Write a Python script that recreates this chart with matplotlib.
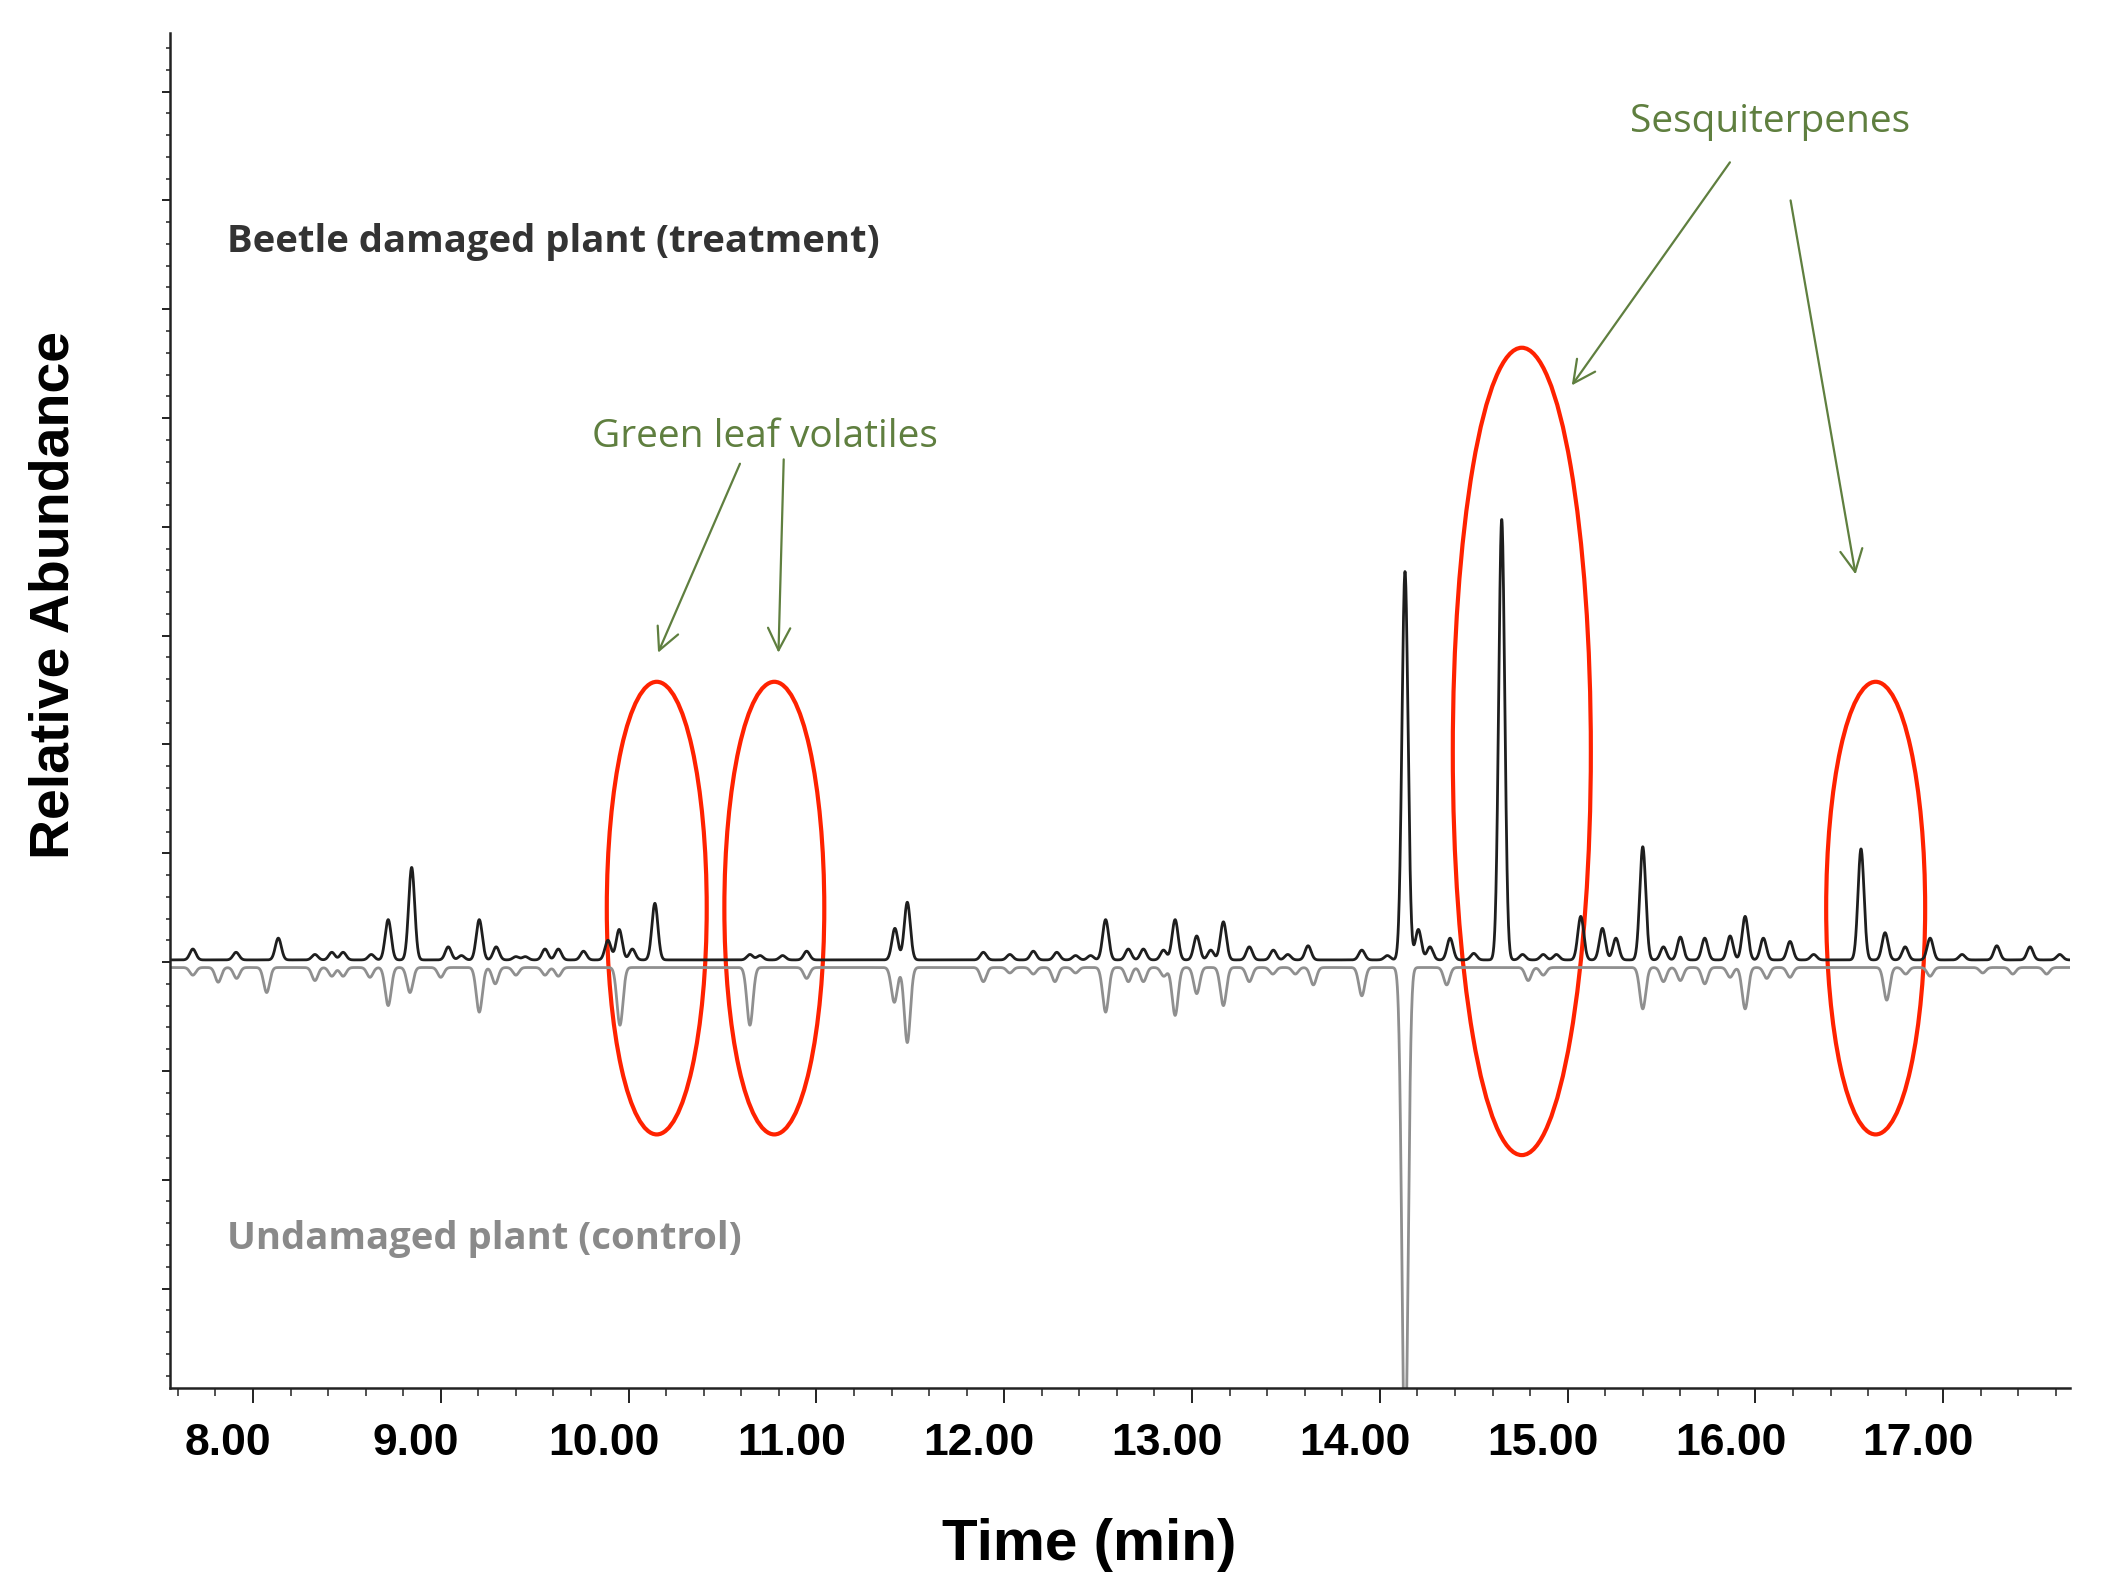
import numpy as np
import matplotlib
matplotlib.use("Agg")
import matplotlib.pyplot as plt
from matplotlib.patches import Ellipse
from matplotlib.transforms import ScaledTranslation

# Peak list: retention time (min) and height (axis units)
treat_rt = [7.68, 7.91, 8.135, 8.33, 8.42, 8.48, 8.63, 8.72, 8.845, 9.04, 9.11, 9.205,
            9.295, 9.40, 9.45, 9.555, 9.626, 9.76, 9.89, 9.95, 10.02, 10.14, 10.646,
            10.70, 10.82, 10.948, 11.418, 11.484, 11.889, 12.03, 12.155, 12.28, 12.38,
            12.46, 12.54, 12.661, 12.741, 12.848, 12.91, 13.025, 13.10, 13.167, 13.305,
            13.433, 13.51, 13.618, 13.904, 14.04, 14.134, 14.205, 14.267, 14.374, 14.50,
            14.649, 14.76, 14.87, 14.94, 15.07, 15.185, 15.257, 15.40, 15.51, 15.60,
            15.73, 15.865, 15.945, 16.042, 16.184, 16.31, 16.562, 16.69, 16.797, 16.93,
            17.10, 17.285, 17.462, 17.62]
treat_h = [0.10, 0.07, 0.20, 0.05, 0.07, 0.07, 0.05, 0.37, 0.85, 0.12, 0.04, 0.37,
           0.12, 0.03, 0.03, 0.10, 0.10, 0.08, 0.18, 0.28, 0.10, 0.52, 0.05,
           0.04, 0.04, 0.08, 0.29, 0.53, 0.07, 0.05, 0.08, 0.07, 0.04,
           0.04, 0.37, 0.10, 0.10, 0.09, 0.37, 0.22, 0.09, 0.35, 0.12,
           0.09, 0.05, 0.13, 0.09, 0.04, 3.57, 0.28, 0.12, 0.20, 0.06,
           4.05, 0.05, 0.05, 0.05, 0.40, 0.29, 0.20, 1.04, 0.12, 0.21,
           0.20, 0.22, 0.40, 0.20, 0.17, 0.05, 1.02, 0.25, 0.12, 0.20,
           0.05, 0.13, 0.12, 0.05]

ctrl_rt = [7.68, 7.815, 7.913, 8.073, 8.33, 8.42, 8.48, 8.623, 8.72, 8.836, 9.00, 9.205,
           9.29, 9.40, 9.555, 9.626, 9.954, 10.646, 10.948, 11.415, 11.484, 11.889,
           12.03, 12.155, 12.27, 12.38, 12.54, 12.661, 12.741, 12.85, 12.91, 13.025,
           13.167, 13.305, 13.43, 13.55, 13.646, 13.904, 14.134, 14.356, 14.79, 14.87,
           15.40, 15.51, 15.60, 15.73, 15.865, 15.945, 16.06, 16.184, 16.699, 16.80,
           16.93, 17.21, 17.37, 17.55]
ctrl_h = [-0.07, -0.135, -0.10, -0.23, -0.12, -0.08, -0.08, -0.09, -0.35, -0.23, -0.09, -0.41,
          -0.15, -0.07, -0.07, -0.08, -0.53, -0.53, -0.10, -0.32, -0.69, -0.13,
          -0.05, -0.06, -0.13, -0.05, -0.41, -0.13, -0.13, -0.08, -0.44, -0.24,
          -0.35, -0.13, -0.06, -0.06, -0.16, -0.26, -4.60, -0.16, -0.12, -0.07,
          -0.38, -0.13, -0.12, -0.15, -0.09, -0.38, -0.10, -0.09, -0.30, -0.06,
          -0.08, -0.05, -0.06, -0.06]

treat_base = 0.02
ctrl_base = -0.05

x_ticks = [8, 9, 10, 11, 12, 13, 14, 15, 16, 17]
x_tick_labels = ["8.00", "9.00", "10.00", "11.00", "12.00", "13.00", "14.00", "15.00", "16.00", "17.00"]

# build the traces as sums of narrow gaussian peaks
t = np.linspace(7.558, 17.675, 8000)
sigma = 0.016


def trace(rts, hs, base):
    y = np.full_like(t, base)
    for rt, h in zip(rts, hs):
        y += h * np.exp(-0.5 * ((t - rt) / sigma) ** 2)
    return y


treat = trace(treat_rt, treat_h, treat_base)
ctrl = trace(ctrl_rt, ctrl_h, ctrl_base)

fig = plt.figure(figsize=(21.19, 15.92), dpi=100)
ax = fig.add_axes([0.0802, 0.1281, 0.8967, 0.8512])

ax.plot(t, ctrl, color="#8f8f8f", lw=2.0)
ax.plot(t, treat, color="#1e1e1e", lw=2.0)

ax.set_xlim(7.558, 17.675)
ax.set_ylim(-3.915, 8.539)

for s in ["top", "right"]:
    ax.spines[s].set_visible(False)
for s in ["left", "bottom"]:
    ax.spines[s].set_linewidth(1.8)
    ax.spines[s].set_color("#222222")

ax.set_xticks(x_ticks)
ax.set_xticks(np.arange(7.6, 17.7, 0.2), minor=True)
ax.set_yticks(np.arange(-3, 9, 1))
ax.set_yticks(np.arange(-3.8, 8.6, 0.2), minor=True)
ax.set_yticklabels([])
ax.tick_params(axis="x", which="major", length=11, width=1.4, pad=14, color="#222222")
ax.tick_params(axis="x", which="minor", length=6, width=1.1, color="#222222")
ax.tick_params(axis="y", which="major", length=6, width=1.4, color="#222222")
ax.tick_params(axis="y", which="minor", length=3, width=1.1, color="#222222")
ax.set_xticklabels(x_tick_labels, fontsize=32, fontweight="bold", family="Liberation Sans")
shift = ScaledTranslation(-25 / 100, 0, fig.dpi_scale_trans)
for lab in ax.get_xticklabels():
    lab.set_transform(lab.get_transform() + shift)

# red ellipses around the peaks of interest
red = "#ff2200"
for cx, cy, w, h in [(10.150, 0.496, 0.532, 4.16), (10.776, 0.496, 0.532, 4.16),
                     (14.756, 1.936, 0.735, 7.42), (16.640, 0.496, 0.527, 4.16)]:
    ax.add_patch(Ellipse((cx, cy), w, h, fill=False, edgecolor=red, lw=3.0, clip_on=False))

green = "#5f7f3f"
arrow_kw = dict(arrowstyle="->,head_length=0.8,head_width=0.4", color=green, lw=1.6,
                mutation_scale=20, shrinkA=0, shrinkB=0)
for (x0, y0), (x1, y1) in [((10.593, 4.58), (10.157, 2.843)),
                           ((10.826, 4.62), (10.798, 2.843)),
                           ((15.864, 7.35), (15.022, 5.30)),
                           ((16.187, 7.00), (16.533, 3.563))]:
    ax.annotate("", xy=(x1, y1), xytext=(x0, y0), arrowprops=arrow_kw)

ax.text(10.726, 4.83, "Green leaf volatiles", color=green, fontsize=28,
        family="Open Sans", ha="center", va="center")
ax.text(16.078, 7.72, "Sesquiterpenes", color=green, fontsize=28,
        family="Open Sans", ha="center", va="center")
ax.text(7.862, 6.62, "Beetle damaged plant (treatment)", color="#333333", fontsize=27.5,
        family="Open Sans", fontweight="bold", ha="left", va="center")
ax.text(7.862, -2.546, "Undamaged plant (control)", color="#8a8a8a", fontsize=27.5,
        family="Open Sans", fontweight="bold", ha="left", va="center")

fig.text(0.514, 0.0295, "Time (min)", fontsize=42, fontweight="bold",
         family="Liberation Sans", ha="center", va="center")
fig.text(0.0255, 0.626, "Relative Abundance", fontsize=40, fontweight="bold",
         family="Liberation Sans", rotation=90, ha="center", va="center")

fig.savefig("out.png", dpi=100)
